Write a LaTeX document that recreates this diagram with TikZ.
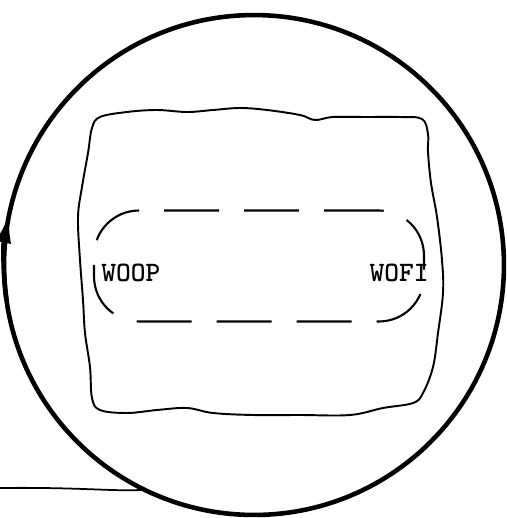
\documentclass[tikz,border=0pt]{standalone}
\usepackage{fontspec}
\usepackage{tikz}
\usetikzlibrary{arrows.meta, positioning, calc}
\tikzstyle{ring} = [circle, draw, line width=2.6pt, minimum size=10cm, inner sep=0pt, outer sep=0pt]
\tikzstyle{lane} = [draw, line width=1.2pt, dash pattern=on 1.1cm off 0.5cm, rounded corners=0.9cm, minimum width=6.6cm, minimum height=2.22cm]
\tikzstyle{tag} = [font=\ttfamily\bfseries\fontsize{16}{16}\selectfont, inner sep=0pt]
\tikzstyle{arrow} = [-{Latex[length=6mm, width=3.2mm]}, line width=2.6pt]

\begin{document}
\begin{tikzpicture}[x=0.02cm, y=-0.02cm]
    \useasboundingbox (0,0) rectangle (507,518);

    % Outer circle
    \node[ring] (ring) at (254,265) {};
    \draw[arrow] (ring.188) arc[start angle=188, end angle=168, radius=5cm];

    % Lead-in line
    \coordinate (lead) at (0,488);
    \draw[line width=1pt] (lead) .. controls (80,487) and (120,492) .. (ring.244);

    % Wavy inner box
    \draw[line width=1.1pt] plot[smooth cycle, tension=0.6] coordinates {
        (100,117) (127,112) (157,110) (187,112) (213,110) (240,108) (267,110)
        (300,115) (315,120) (333,117) (367,117) (400,117) (422,119) (428,134)
        (428,152) (431,183) (437,217) (442,260) (443,293) (438,333) (433,367)
        (423,393) (413,403) (383,408) (350,415) (300,415) (253,415) (213,413)
        (187,408) (157,410) (127,413) (100,410) (92,398) (90,367) (85,333)
        (83,300) (80,260) (78,217) (82,187) (88,153) (92,128)};

    % Dashed lane
    \node[lane] (lane) at (259,266) {};

    % Labels
    \node[tag, anchor=west] (woop) at (101,273) {WOOP};
    \node[tag, anchor=east] (wofi) at (429,273) {WOFI};
\end{tikzpicture}
\end{document}
